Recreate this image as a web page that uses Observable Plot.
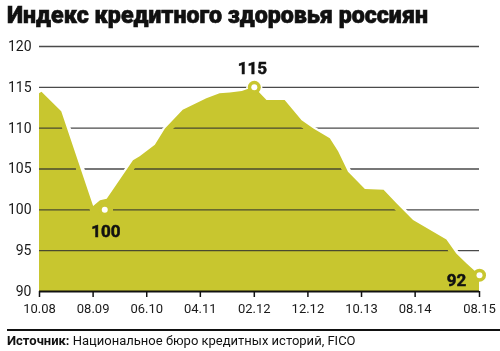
<!DOCTYPE html>
<html>
<head>
<meta charset="utf-8">
<script src="https://cdn.jsdelivr.net/npm/d3@7"></script>
<script src="https://cdn.jsdelivr.net/npm/@observablehq/plot@0.6"></script>
<style>
  html, body { margin: 0; padding: 0; background: #fff; }
  #wrap { position: relative; width: 500px; height: 351px; overflow: hidden; font-family: Roboto, "Noto Sans", sans-serif; }
  #title { position: absolute; left: 7px; top: 2px; font-family: Roboto, sans-serif; font-weight: 900; font-size: 23px; color: #111; white-space: nowrap; line-height: 1.2; z-index: 2; -webkit-text-stroke: 0.6px #111; }
  #rule { position: absolute; left: 7px; top: 329px; width: 493px; height: 2px; background: #111; z-index: 2; }
  #source { position: absolute; left: 7px; top: 333px; font-size: 13px; color: #111; white-space: nowrap; line-height: 1.2; z-index: 2; }
  #chart { position: absolute; left: 0; top: 0; }
</style>
</head>
<body>
<div id="wrap">
  <div id="title">Индекс кредитного здоровья россиян</div>
  <div id="chart"></div>
  <div id="rule"></div>
  <div id="source"><b>Источник:</b> Национальное бюро кредитных историй, FICO</div>
</div>
<script>
// Series
const dates = ["2008-10-01", "2008-10-15", "2009-02-04", "2009-08-04", "2009-09-12", "2009-10-20",
  "2010-03-18", "2010-04-25", "2010-07-20", "2010-09-15", "2010-12-25", "2011-05-08", "2011-07-22",
  "2011-09-18", "2011-11-25", "2012-02-01", "2012-04-13", "2012-07-25", "2012-10-29", "2013-01-04",
  "2013-04-07", "2013-05-24", "2013-07-19", "2013-10-23", "2014-02-06", "2014-04-21", "2014-07-23",
  "2015-01-28", "2015-03-25", "2015-05-21", "2015-08-01"];
const values = [114.2, 114.4, 112.0, 100.4, 101.1, 101.3,
  106.0, 106.5, 107.9, 109.9, 112.2, 113.6, 114.2,
  114.3, 114.5, 115.0, 113.4, 113.4, 110.9, 109.9,
  108.7, 107.1, 104.6, 102.5, 102.4, 100.7, 98.7,
  96.3, 94.6, 93.4, 92.0];

// Highlighted points
const markDates = ["2009-10-06", "2012-02-01", "2015-08-01"];
const markValues = [100, 115, 92];
const markLabels = ["100", "115", "92"];

// Axis ticks
const xTickDates = ["2008-10-01", "2009-08-01", "2010-06-01", "2011-04-01", "2012-02-01",
  "2012-12-01", "2013-10-01", "2014-08-01", "2015-08-01"];
const yTicks = [90, 95, 100, 105, 110, 115, 120];
const gridValues = [95, 100, 105, 110, 115, 120];

const FILL = "#c8c62f";

const data = dates.map((d, i) => ({date: new Date(d), value: values[i]}));
const marks = markDates.map((d, i) => ({date: new Date(d), value: markValues[i], label: markLabels[i]}));
const xTicks = xTickDates.map(d => new Date(d));

const labelStyle = {fontSize: 17, fontWeight: "bold", fontFamily: "'Liberation Sans Narrow', Roboto, sans-serif",
  fill: "#111", stroke: "#111", strokeWidth: 0.5};

const chart = Plot.plot({
  width: 500,
  height: 351,
  marginLeft: 39,
  marginRight: 21,
  marginTop: 46,
  marginBottom: 60,
  style: {fontFamily: "Roboto, sans-serif", background: "transparent", color: "#1a1a1a"},
  x: {type: "utc", domain: [new Date("2008-10-01"), new Date("2015-08-01")]},
  y: {domain: [90, 120]},
  marks: [
    Plot.areaY(data, {x: "date", y1: 90, y2: "value", fill: FILL}),
    Plot.ruleY(gridValues, {stroke: "#4a4a4a", strokeWidth: 1.3}),
    Plot.lineY(data, {x: "date", y: "value", stroke: "white", strokeWidth: 8, dy: 2, strokeLinejoin: "round"}),
    Plot.dot(marks, {x: "date", y: "value", r: 8, fill: "white"}),
    Plot.areaY(data, {x: "date", y1: 90, y2: "value", fill: FILL, mixBlendMode: "darken"}),
    Plot.ruleY([90], {stroke: "#111", strokeWidth: 2}),
    Plot.dot(marks, {x: "date", y: "value", r: 6.5, fill: FILL}),
    Plot.dot(marks, {x: "date", y: "value", r: 3, fill: "white"}),
    Plot.text(marks.filter(d => d.label === "115"), {x: "date", y: "value", text: "label", dy: -19, dx: -2, ...labelStyle}),
    Plot.text(marks.filter(d => d.label === "100"), {x: "date", y: "value", text: "label", dy: 22, dx: 1, ...labelStyle}),
    Plot.text(marks.filter(d => d.label === "92"), {x: "date", y: "value", text: "label", dy: 5, dx: -23, ...labelStyle}),
    Plot.axisY({ticks: yTicks, tickSize: 0, tickPadding: 8, fontSize: 14, label: null}),
    Plot.axisX({ticks: xTicks, tickFormat: d3.utcFormat("%m.%y"), tickSize: 6, tickPadding: 6,
      fontSize: 13, strokeWidth: 1.5, stroke: "#111", label: null})
  ]
});
document.getElementById("chart").appendChild(chart);

function fitTitle() {
  const t = document.getElementById("title");
  const w = t.getBoundingClientRect().width;
  const target = 421;
  if (w > 0) t.style.fontSize = (parseFloat(getComputedStyle(t).fontSize) * target / w).toFixed(2) + "px";
}
fitTitle();
if (document.fonts && document.fonts.ready) document.fonts.ready.then(fitTitle);
</script>
</body>
</html>
